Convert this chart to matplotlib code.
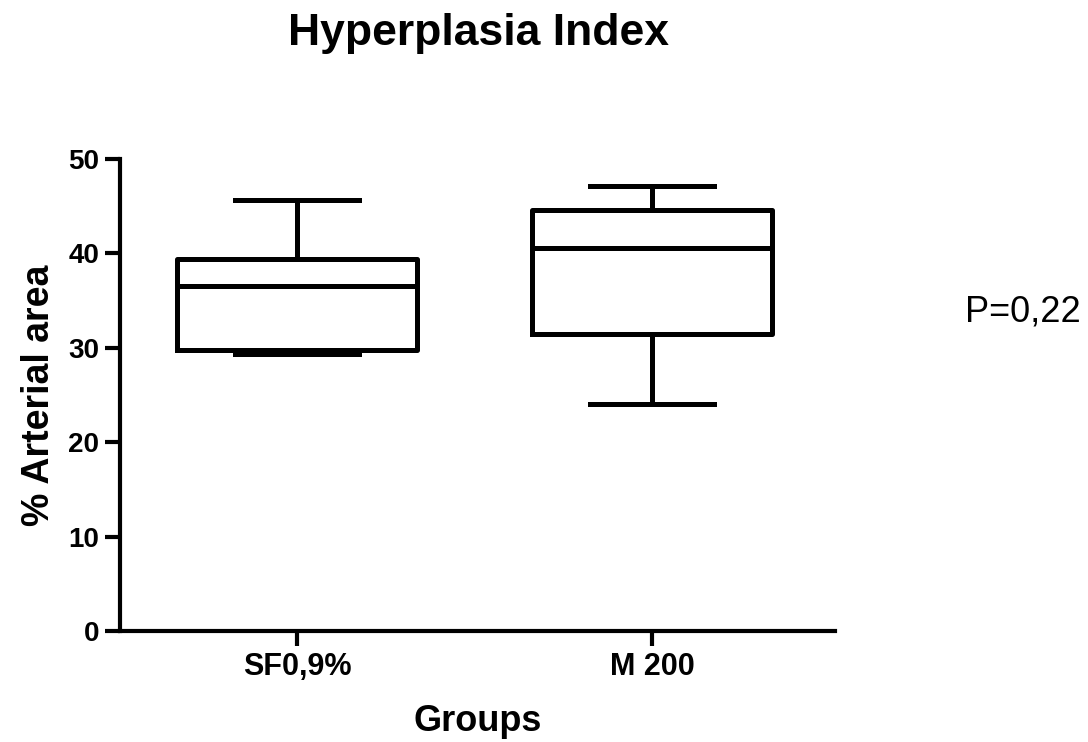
"""Hyperplasia index box plot for the two treatment groups."""

import matplotlib
matplotlib.use("Agg")
import matplotlib.pyplot as plt

# Five-number summaries per group: whisker min, Q1, median, Q3, whisker max
groups = ["SF0,9%", "M 200"]
whisker_low = [29.3, 24.0]
q1 = [29.8, 31.5]
medians = [36.6, 40.6]
q3 = [39.4, 44.6]
whisker_high = [45.7, 47.1]
y_ticks = [0, 10, 20, 30, 40, 50]
p_label = "P=0,22"


def main() -> None:
    plt.rcParams["font.family"] = ["Liberation Sans", "DejaVu Sans"]

    fig = plt.figure(figsize=(10.88, 7.42), dpi=100)
    ax = fig.add_axes([0.1103, 0.1496, 0.657, 0.636])

    stats = []
    for name, lo, a, m, b, hi in zip(groups, whisker_low, q1, medians, q3, whisker_high):
        stats.append({"label": name, "whislo": lo, "q1": a, "med": m, "q3": b, "whishi": hi})

    lw = 3.6
    ax.bxp(
        stats,
        positions=[1, 2],
        widths=0.676,
        showfliers=False,
        boxprops=dict(color="black", linewidth=lw),
        medianprops=dict(color="black", linewidth=lw),
        whiskerprops=dict(color="black", linewidth=lw),
        capprops=dict(color="black", linewidth=lw),
        capwidths=0.35,
    )

    ax.set_xlim(0.5, 2.515)
    ax.set_ylim(0, 50)
    ax.set_yticks(y_ticks)
    ax.set_xticks([1, 2])
    ax.set_xticklabels(groups)

    for side in ("top", "right"):
        ax.spines[side].set_visible(False)
    for side in ("left", "bottom"):
        ax.spines[side].set_linewidth(3.0)
    ax.tick_params(axis="both", width=3.0, length=11, pad=4)
    ax.tick_params(axis="y", labelsize=20)
    ax.tick_params(axis="x", labelsize=22)
    for lab in ax.get_xticklabels() + ax.get_yticklabels():
        lab.set_fontweight("bold")

    ax.set_ylabel("% Arterial area", fontsize=27, fontweight="bold", labelpad=8)
    ax.set_xlabel("Groups", fontsize=26, fontweight="bold", labelpad=16)
    fig.text(0.44, 0.955, "Hyperplasia Index", fontsize=32, fontweight="bold",
             ha="center", va="center")
    fig.text(0.94, 0.58, p_label, fontsize=26, ha="center", va="center")

    fig.savefig("out.png", dpi=100)


if __name__ == "__main__":
    main()
